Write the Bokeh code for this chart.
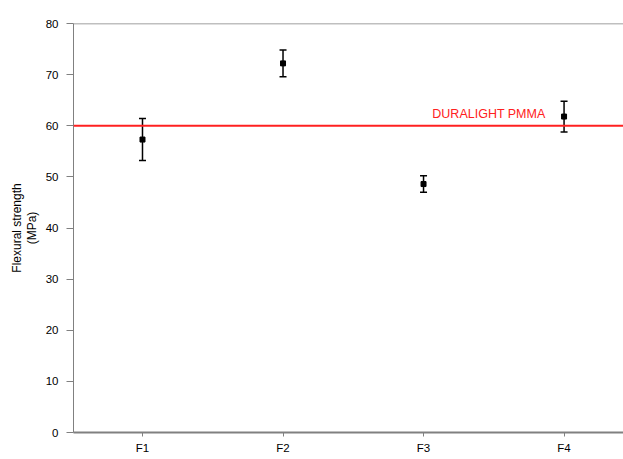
from bokeh.plotting import figure
from bokeh.models import ColumnDataSource, Whisker, Span, Label, FixedTicker
from bokeh.embed import file_html
from bokeh.resources import INLINE

categories = ["F1", "F2", "F3", "F4"]
means = [57.3, 72.2, 48.6, 61.8]
errors = [4.1, 2.6, 1.6, 3.0]
reference_value = 60
reference_label = "DURALIGHT PMMA"
y_ticks = [0, 10, 20, 30, 40, 50, 60, 70, 80]

xs = list(range(1, len(categories) + 1))
src = ColumnDataSource(dict(
    x=xs, y=means,
    upper=[m + e for m, e in zip(means, errors)],
    lower=[m - e for m, e in zip(means, errors)],
))

FONT = "Liberation Sans"

p = figure(width=623, height=459, output_backend="svg", toolbar_location=None,
           x_range=(0.509, 4.423), y_range=(0, 80),
           min_border_left=73, min_border_right=0, min_border_top=23, min_border_bottom=27)
p.outline_line_color = None
p.background_fill_color = "white"
p.border_fill_color = "white"
p.xgrid.visible = False
p.ygrid.visible = False

# y axis
p.yaxis.ticker = FixedTicker(ticks=y_ticks)
p.yaxis.minor_tick_line_color = None
p.yaxis.major_tick_in = 0
p.yaxis.major_tick_out = 7
p.yaxis.axis_line_color = "#808080"
p.yaxis.major_tick_line_color = "#808080"
p.yaxis.major_label_text_font = FONT
p.yaxis.major_label_text_font_size = "11.5px"
p.yaxis.major_label_text_color = "black"
p.yaxis.major_label_standoff = 8
p.yaxis.axis_label = "Flexural strength\n(MPa)"
p.yaxis.axis_label_text_font = FONT
p.yaxis.axis_label_text_font_size = "12px"
p.yaxis.axis_label_text_font_style = "normal"
p.yaxis.axis_label_text_color = "black"
p.yaxis.axis_label_text_line_height = 1.05
p.yaxis.axis_label_standoff = 4

# x axis
p.xaxis.ticker = FixedTicker(ticks=xs)
p.xaxis.major_label_overrides = {x: c for x, c in zip(xs, categories)}
p.xaxis.minor_tick_line_color = None
p.xaxis.major_tick_in = 0
p.xaxis.major_tick_out = 4
p.xaxis.axis_line_color = "#808080"
p.xaxis.axis_line_width = 2
p.xaxis.major_tick_line_color = "#808080"
p.xaxis.major_label_text_font = FONT
p.xaxis.major_label_text_font_size = "11.5px"
p.xaxis.major_label_text_color = "black"
p.xaxis.major_label_standoff = 5

# top border line at max
p.add_layout(Span(location=y_ticks[-1], dimension="width", line_color="#808080", line_width=1.5))

# reference line
p.add_layout(Span(location=reference_value, dimension="width", line_color="#FF2020", line_width=2))
p.add_layout(Label(x=3.868, y=reference_value + 1.0, text=reference_label, text_align="right",
                   text_baseline="bottom", text_color="#FF2020", text_font=FONT,
                   text_font_size="12.5px"))

# error bars
w = Whisker(source=src, base="x", upper="upper", lower="lower", dimension="height",
            line_color="black", line_width=1.5)
w.upper_head.size = 7
w.lower_head.size = 7
w.upper_head.line_color = "black"
w.lower_head.line_color = "black"
w.upper_head.line_width = 1.5
w.lower_head.line_width = 1.5
p.add_layout(w)

p.scatter("x", "y", source=src, marker="square", size=5, color="black")

open("out.html", "w").write(file_html(p, INLINE))
